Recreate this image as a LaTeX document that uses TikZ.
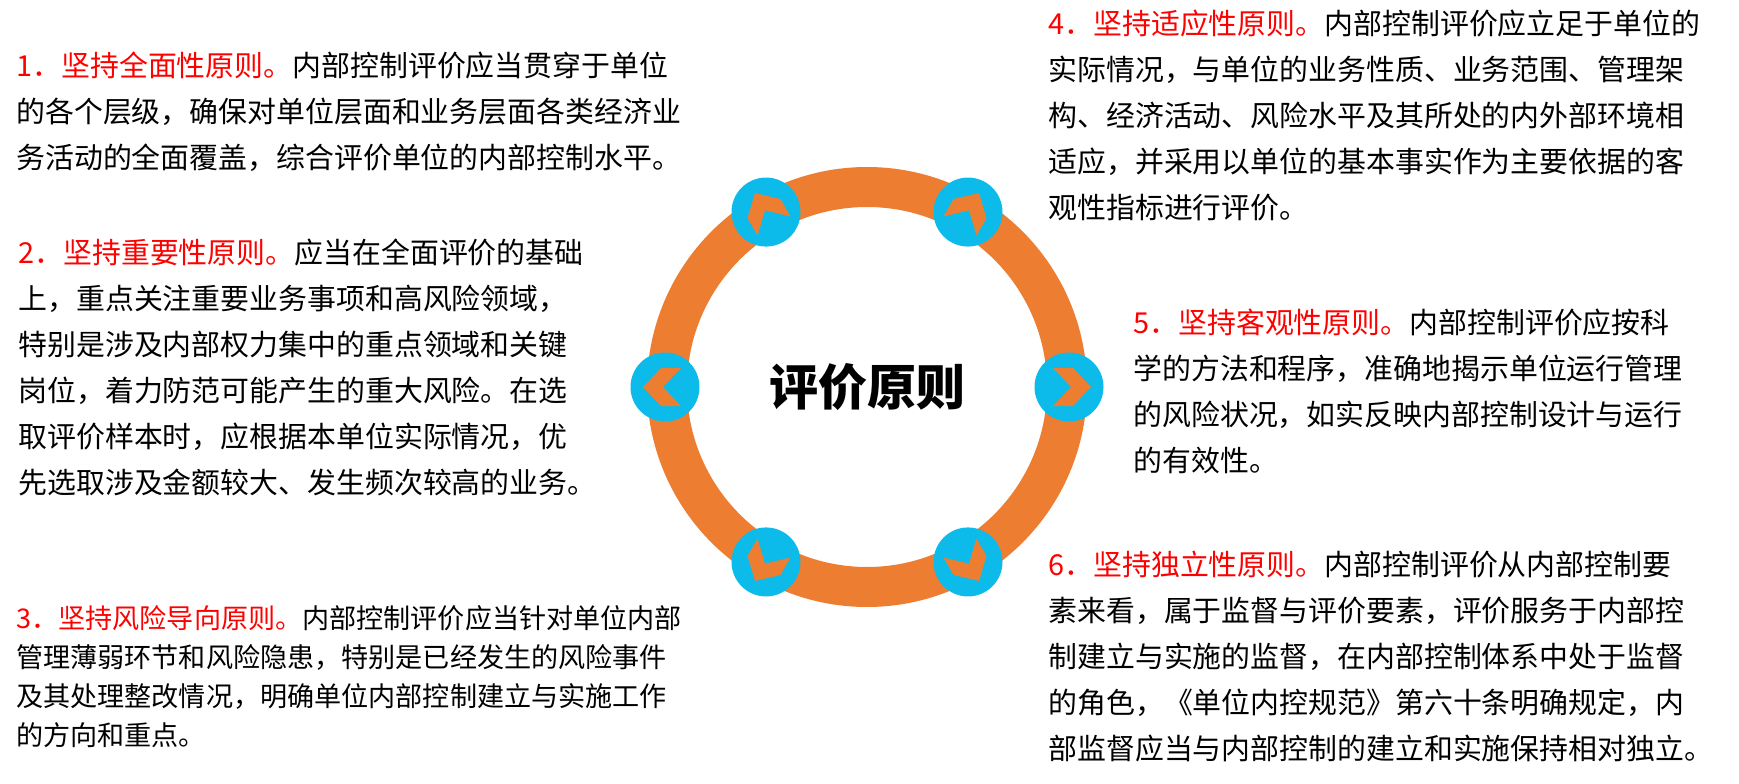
\documentclass[tikz,border=0pt]{standalone}
\usepackage{fontspec}
\setmainfont{Noto Sans CJK SC}
\definecolor{ringorange}{RGB}{237,125,49}
\definecolor{markblue}{RGB}{13,187,235}
\newcommand{\redhead}[1]{{\color{red}#1}}

\begin{document}
\begin{tikzpicture}
  [x=0.5pt, y=0.5pt,
   ring/.style = {draw=ringorange, line width=20pt},
   marker/.style = {circle, fill=markblue, minimum size=34.5pt, inner sep=0pt},
   chevron/.style = {fill=ringorange},
   principle/.style = {anchor=base west, align=left, inner sep=0pt,
                       font=\fontsize{14.45pt}{23pt}\selectfont}]

% Frame
\useasboundingbox (0,0) rectangle (1739,783);

% Ring
\coordinate (c) at (867,396);
\draw[ring] (c) circle (200);

% Markers
\foreach \a [count=\i] in {0,60,...,300} {
  \node[marker] (m\i) at ([shift={(\a:202)}]c) {};
  \fill[chevron, shift={(m\i)}, rotate=\a]
    (22,0) -- (4,19) -- (-16,19) -- (2,0) -- (-16,-19) -- (4,-19) -- cycle;
}

% Title
\node[font=\bfseries\fontsize{24.5pt}{30pt}\selectfont] (title) at (c) {评价原则};

% Left column (anchored at the last line)
\node[principle] (p1) at (16,614)
  {\redhead{1．坚持全面性原则。}内部控制评价应当贯穿于单位\\
   的各个层级，确保对单位层面和业务层面各类经济业\\
   务活动的全面覆盖，综合评价单位的内部控制水平。};
\node[principle] (p2) at (18,290)
  {\redhead{2．坚持重要性原则。}应当在全面评价的基础\\
   上，重点关注重要业务事项和高风险领域，\\
   特别是涉及内部权力集中的重点领域和关键\\
   岗位，着力防范可能产生的重大风险。在选\\
   取评价样本时，应根据本单位实际情况，优\\
   先选取涉及金额较大、发生频次较高的业务。};
\node[principle, font=\fontsize{13.55pt}{19.5pt}\selectfont] (p3) at (16,38)
  {\redhead{3．坚持风险导向原则。}内部控制评价应当针对单位内部\\
   管理薄弱环节和风险隐患，特别是已经发生的风险事件\\
   及其处理整改情况，明确单位内部控制建立与实施工作\\
   的方向和重点。};

% Right column
\node[principle] (p4) at (1048,564)
  {\redhead{4．坚持适应性原则。}内部控制评价应立足于单位的\\
   实际情况，与单位的业务性质、业务范围、管理架\\
   构、经济活动、风险水平及其所处的内外部环境相\\
   适应，并采用以单位的基本事实作为主要依据的客\\
   观性指标进行评价。};
\node[principle] (p5) at (1133,312)
  {\redhead{5．坚持客观性原则。}内部控制评价应按科\\
   学的方法和程序，准确地揭示单位运行管理\\
   的风险状况，如实反映内部控制设计与运行\\
   的有效性。};
\node[principle] (p6) at (1048,24)
  {\redhead{6．坚持独立性原则。}内部控制评价从内部控制要\\
   素来看，属于监督与评价要素，评价服务于内部控\\
   制建立与实施的监督，在内部控制体系中处于监督\\
   的角色，《单位内控规范》第六十条明确规定，内\\
   部监督应当与内部控制的建立和实施保持相对独立。};

\end{tikzpicture}
\end{document}
